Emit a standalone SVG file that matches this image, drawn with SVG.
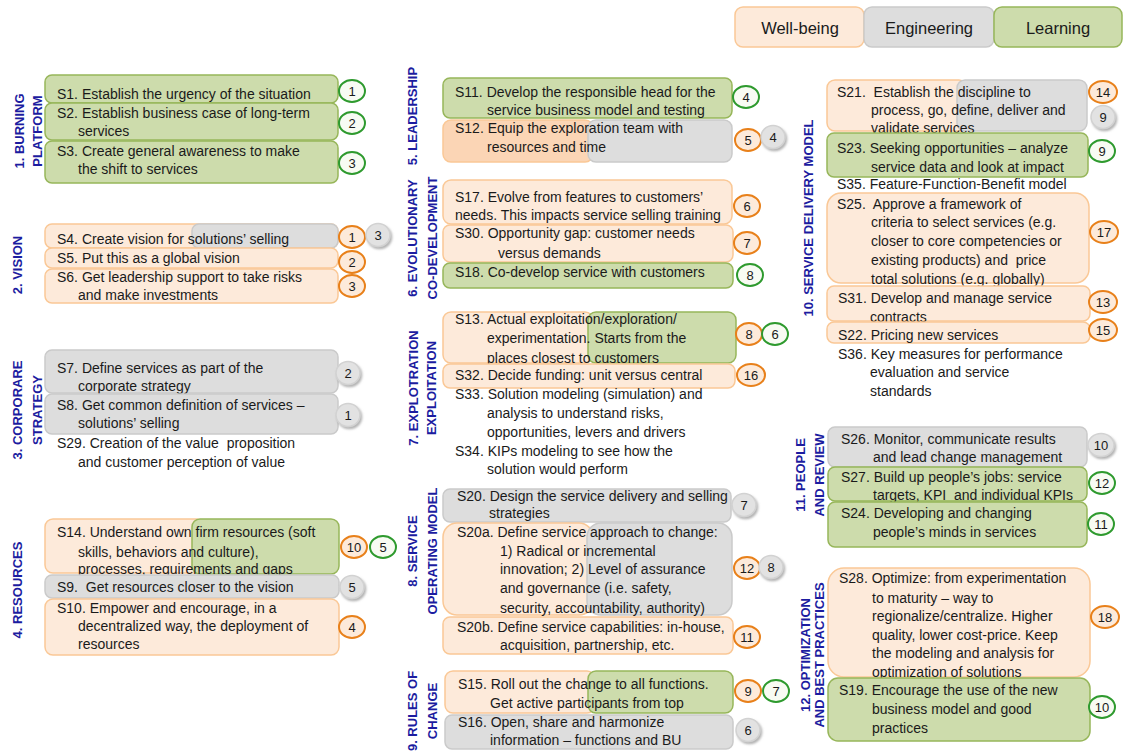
<svg xmlns="http://www.w3.org/2000/svg" width="1123" height="751" viewBox="0 0 1123 751">
<defs>
<filter id="sh" x="-50%" y="-50%" width="200%" height="200%"><feDropShadow dx="1.5" dy="2" stdDeviation="1" flood-color="#808080" flood-opacity="0.6"/></filter>
<style>
.w{fill:#FDEADA;stroke:#FAC896;stroke-width:1.5}
.w2{fill:#FBD5B5;stroke:#FAC896;stroke-width:1.5}
.e{fill:#DDDDDD;stroke:#CACACA;stroke-width:1.5}
.l{fill:#CDDCAC;stroke:#97B65A;stroke-width:1.5}
.t{font-family:"Liberation Sans",Arial,sans-serif;font-size:14px;fill:#1a1a1a}
.lg{font-family:"Liberation Sans",Arial,sans-serif;font-size:16.5px;fill:#1a1a1a;text-anchor:middle}
.h{font-family:"Liberation Sans",Arial,sans-serif;font-size:13px;font-weight:bold;fill:#1C1CA0;text-anchor:middle}
.bw{fill:#FDEADA;stroke:#E8801A;stroke-width:2}
.bl{fill:#F8FBF3;stroke:#2E9A2E;stroke-width:2}
.be{fill:#E2E2E2;stroke:#D2D2D2;stroke-width:1.5;filter:url(#sh)}
.bt{font-family:"Liberation Sans",Arial,sans-serif;font-size:13px;fill:#1a1a1a;text-anchor:middle}
</style>
</defs>
<rect width="1123" height="751" fill="#FFFFFF"/>

<g id="legend">
<rect class="w" x="735" y="7" width="129" height="40" rx="8"/>
<rect class="e" x="864" y="7" width="130" height="40" rx="8"/>
<rect class="l" x="994" y="7" width="128" height="40" rx="8"/>
<text class="lg" x="800" y="34">Well-being</text>
<text class="lg" x="929" y="34">Engineering</text>
<text class="lg" x="1058" y="34">Learning</text>
</g>

<g id="labels">
<text class="h" transform="translate(24,131) rotate(-90)">1. BURNING</text>
<text class="h" transform="translate(42,131) rotate(-90)">PLATFORM</text>
<text class="h" transform="translate(22,265) rotate(-90)">2. VISION</text>
<text class="h" transform="translate(22,410) rotate(-90)">3. CORPORARE</text>
<text class="h" transform="translate(42,410) rotate(-90)">STRATEGY</text>
<text class="h" transform="translate(22,590) rotate(-90)">4. RESOURCES</text>
<text class="h" transform="translate(417,116) rotate(-90)">5. LEADERSHIP</text>
<text class="h" transform="translate(417,238) rotate(-90)">6. EVOLUTIONARY</text>
<text class="h" transform="translate(437,238) rotate(-90)">CO-DEVELOPMENT</text>
<text class="h" transform="translate(418,388) rotate(-90)">7. EXPLOTRATION</text>
<text class="h" transform="translate(436,388) rotate(-90)">EXPLOITATION</text>
<text class="h" transform="translate(417,551) rotate(-90)">8. SERVICE</text>
<text class="h" transform="translate(437,551) rotate(-90)">OPERATING MODEL</text>
<text class="h" transform="translate(417,711) rotate(-90)">9. RULES OF</text>
<text class="h" transform="translate(437,711) rotate(-90)">CHANGE</text>
<text class="h" transform="translate(813,218) rotate(-90)">10. SERVICE DELIVERY MODEL</text>
<text class="h" transform="translate(805,475) rotate(-90)">11. PEOPLE</text>
<text class="h" transform="translate(824,475) rotate(-90)">AND REVIEW</text>
<text class="h" transform="translate(810,655) rotate(-90)">12. OPTIMIZATION</text>
<text class="h" transform="translate(824,655) rotate(-90)">AND BEST PRACTICES</text>
</g>

<g id="connectors"/>

<!-- Column 1 -->
<g id="S1">
<rect class="l" x="45" y="75" width="293" height="28" rx="7"/>
<text class="t" x="57" y="99">S1. Establish the urgency of the situation</text>
<ellipse class="bl" cx="352" cy="91" rx="13" ry="11"/><text class="bt" x="352" y="96">1</text>
</g>
<g id="S2">
<rect class="l" x="45" y="103" width="293" height="37" rx="7"/>
<text class="t" x="57" y="118">S2. Establish business case of long-term</text>
<text class="t" x="78" y="136">services</text>
<ellipse class="bl" cx="352" cy="123" rx="13" ry="11"/><text class="bt" x="352" y="128">2</text>
</g>
<g id="S3">
<rect class="l" x="45" y="141" width="293" height="42" rx="7"/>
<text class="t" x="57" y="156">S3. Create general awareness to make</text>
<text class="t" x="78" y="174">the shift to services</text>
<ellipse class="bl" cx="352" cy="163" rx="13" ry="11"/><text class="bt" x="352" y="168">3</text>
</g>

<g id="S4">
<rect class="w" x="45" y="224" width="293" height="24" rx="7"/>
<rect class="e" x="192" y="224" width="146" height="24" rx="7"/>
<text class="t" x="57" y="244">S4. Create vision for solutions’ selling</text>
<ellipse class="bw" cx="352" cy="237" rx="13" ry="11"/><text class="bt" x="352" y="242">1</text>
<ellipse class="be" cx="378" cy="235" rx="12" ry="11.5"/><text class="bt" x="378" y="240">3</text>
</g>
<g id="S5">
<rect class="w" x="45" y="248" width="293" height="20" rx="7"/>
<text class="t" x="57" y="263">S5. Put this as a global vision</text>
<ellipse class="bw" cx="352" cy="262" rx="13" ry="11"/><text class="bt" x="352" y="267">2</text>
</g>
<g id="S6">
<rect class="w" x="45" y="269" width="293" height="34" rx="7"/>
<text class="t" x="57" y="282">S6. Get leadership support to take risks</text>
<text class="t" x="78" y="300">and make investments</text>
<ellipse class="bw" cx="352" cy="286" rx="13" ry="11"/><text class="bt" x="352" y="291">3</text>
</g>

<g id="S7">
<rect class="e" x="45" y="350" width="293" height="43" rx="7"/>
<text class="t" x="57" y="373">S7. Define services as part of the</text>
<text class="t" x="78" y="391">corporate strategy</text>
<ellipse class="be" cx="348" cy="373" rx="12" ry="11.5"/><text class="bt" x="348" y="378">2</text>
</g>
<g id="S8">
<rect class="e" x="45" y="394" width="293" height="40" rx="7"/>
<text class="t" x="57" y="410">S8. Get common definition of services –</text>
<text class="t" x="78" y="428">solutions’ selling</text>
<ellipse class="be" cx="348" cy="415" rx="12" ry="11.5"/><text class="bt" x="348" y="420">1</text>
</g>
<g id="S29">
<text class="t" x="57" y="448">S29. Creation of the value&#160; proposition</text>
<text class="t" x="78" y="467">and customer perception of value</text>
</g>

<g id="S14">
<rect class="w" x="45" y="519" width="160" height="54" rx="8"/>
<rect class="l" x="192" y="519" width="147" height="55" rx="8"/>
<text class="t" x="57" y="537">S14. Understand own firm resources (soft</text>
<text class="t" x="78" y="557">skills, behaviors and culture),</text>
<text class="t" x="78" y="574">processes, requirements and gaps</text>
<ellipse class="bw" cx="354" cy="547" rx="13" ry="11"/><text class="bt" x="354" y="552">10</text>
<ellipse class="bl" cx="383" cy="547" rx="13" ry="11"/><text class="bt" x="383" y="552">5</text>
</g>
<g id="S9">
<rect class="e" x="45" y="575" width="294" height="23" rx="7"/>
<text class="t" x="57" y="592">S9.&#160; Get resources closer to the vision</text>
<ellipse class="be" cx="352" cy="587" rx="12" ry="11.5"/><text class="bt" x="352" y="592">5</text>
</g>
<g id="S10">
<rect class="w" x="45" y="599" width="294" height="56" rx="8"/>
<text class="t" x="57" y="613">S10. Empower and encourage, in a</text>
<text class="t" x="78" y="631">decentralized way, the deployment of</text>
<text class="t" x="78" y="649">resources</text>
<ellipse class="bw" cx="352" cy="627" rx="13" ry="11"/><text class="bt" x="352" y="632">4</text>
</g>

<!-- Column 2 -->
<g id="S11">
<rect class="l" x="443" y="78" width="289" height="40" rx="7"/>
<text class="t" x="455" y="97">S11. Develop the responsible head for the</text>
<text class="t" x="487" y="115">service business model and testing</text>
<ellipse class="bl" cx="746" cy="97" rx="13" ry="11"/><text class="bt" x="746" y="102">4</text>
</g>
<g id="S12">
<rect class="w2" x="443" y="120" width="150" height="42" rx="8"/>
<rect class="e" x="588" y="120" width="144" height="42" rx="8"/>
<text class="t" x="455" y="133">S12. Equip the exploration team with</text>
<text class="t" x="487" y="152">resources and time</text>
<ellipse class="bw" cx="748" cy="140" rx="13" ry="11"/><text class="bt" x="748" y="145">5</text>
<ellipse class="be" cx="773" cy="137" rx="12" ry="11.5"/><text class="bt" x="773" y="142">4</text>
</g>

<g id="S17">
<rect class="w" x="443" y="180" width="289" height="44" rx="8"/>
<text class="t" x="455" y="202">S17. Evolve from features to customers’</text>
<text class="t" x="455" y="220">needs. This impacts service selling training</text>
<ellipse class="bw" cx="747" cy="206" rx="13" ry="11"/><text class="bt" x="747" y="211">6</text>
</g>
<g id="S30">
<rect class="w" x="443" y="225" width="290" height="37" rx="7"/>
<text class="t" x="455" y="238">S30. Opportunity gap: customer needs</text>
<text class="t" x="498" y="258">versus demands</text>
<ellipse class="bw" cx="747" cy="243" rx="13" ry="11"/><text class="bt" x="747" y="248">7</text>
</g>
<g id="S18">
<rect class="l" x="443" y="263" width="290" height="25" rx="7"/>
<text class="t" x="455" y="277">S18. Co-develop service with customers</text>
<ellipse class="bl" cx="750" cy="275" rx="13" ry="11"/><text class="bt" x="750" y="280">8</text>
</g>

<g id="S13">
<rect class="w" x="443" y="312" width="150" height="51" rx="8"/>
<rect class="l" x="588" y="312" width="148" height="51" rx="8"/>
<text class="t" x="455" y="324">S13. Actual exploitation/exploration/</text>
<text class="t" x="487" y="343">experimentation. Starts from the</text>
<text class="t" x="487" y="363">places closest to customers</text>
<ellipse class="bw" cx="749" cy="334" rx="13" ry="11"/><text class="bt" x="749" y="339">8</text>
<ellipse class="bl" cx="775" cy="334" rx="13" ry="11"/><text class="bt" x="775" y="339">6</text>
</g>
<g id="S32">
<rect class="w" x="443" y="364" width="292" height="24" rx="7"/>
<text class="t" x="455" y="380">S32. Decide funding: unit versus central</text>
<ellipse class="bw" cx="751" cy="375" rx="14" ry="11"/><text class="bt" x="751" y="380">16</text>
</g>
<g id="S33">
<text class="t" x="455" y="399">S33. Solution modeling (simulation) and</text>
<text class="t" x="487" y="418">analysis to understand risks,</text>
<text class="t" x="487" y="437">opportunities, levers and drivers</text>
</g>
<g id="S34">
<text class="t" x="455" y="456">S34. KIPs modeling to see how the</text>
<text class="t" x="487" y="474">solution would perform</text>
</g>

<g id="S20">
<rect class="e" x="443" y="489" width="288" height="33" rx="7"/>
<text class="t" x="457" y="501">S20. Design the service delivery and selling</text>
<text class="t" x="489" y="518">strategies</text>
<ellipse class="be" cx="744" cy="505" rx="12" ry="11.5"/><text class="bt" x="744" y="510">7</text>
</g>
<g id="S20a">
<rect class="w" x="443" y="523" width="150" height="92" rx="14"/>
<rect class="e" x="587" y="523" width="145" height="92" rx="14"/>
<text class="t" x="457" y="537">S20a. Define service approach to change:</text>
<text class="t" x="500" y="556">1) Radical or incremental</text>
<text class="t" x="500" y="574">innovation; 2) Level of assurance</text>
<text class="t" x="500" y="593">and governance (i.e. safety,</text>
<text class="t" x="500" y="613">security, accountability, authority)</text>
<ellipse class="bw" cx="747" cy="568" rx="13" ry="11"/><text class="bt" x="747" y="573">12</text>
<ellipse class="be" cx="771" cy="567" rx="12" ry="11.5"/><text class="bt" x="771" y="572">8</text>
</g>
<g id="S20b">
<rect class="w" x="443" y="617" width="290" height="37" rx="7"/>
<text class="t" x="457" y="632">S20b. Define service capabilities: in-house,</text>
<text class="t" x="500" y="650">acquisition, partnership, etc.</text>
<ellipse class="bw" cx="747" cy="637" rx="13" ry="11"/><text class="bt" x="747" y="642">11</text>
</g>

<g id="S15">
<rect class="w" x="445" y="671" width="150" height="42" rx="8"/>
<rect class="l" x="588" y="671" width="145" height="42" rx="8"/>
<text class="t" x="458" y="689">S15. Roll out the change to all functions.</text>
<text class="t" x="490" y="708">Get active participants from top</text>
<ellipse class="bw" cx="748" cy="691" rx="13" ry="11"/><text class="bt" x="748" y="696">9</text>
<ellipse class="bl" cx="776" cy="691" rx="13" ry="11"/><text class="bt" x="776" y="696">7</text>
</g>
<g id="S16">
<rect class="e" x="445" y="715" width="288" height="34" rx="7"/>
<text class="t" x="458" y="727">S16. Open, share and harmonize</text>
<text class="t" x="490" y="745">information – functions and BU</text>
<ellipse class="be" cx="748" cy="730" rx="12" ry="11.5"/><text class="bt" x="748" y="735">6</text>
</g>

<!-- Column 3 -->
<g id="S21">
<rect class="w" x="827" y="80" width="140" height="51" rx="8"/>
<rect class="e" x="957" y="80" width="130" height="51" rx="8"/>
<text class="t" x="837" y="97">S21.&#160; Establish the discipline to</text>
<text class="t" x="871" y="115">process, go, define, deliver and</text>
<text class="t" x="871" y="133">validate services</text>
<ellipse class="bw" cx="1103" cy="92" rx="14" ry="11"/><text class="bt" x="1103" y="97">14</text>
<ellipse class="be" cx="1103" cy="117" rx="12" ry="11.5"/><text class="bt" x="1103" y="122">9</text>
</g>
<g id="S23">
<rect class="l" x="827" y="133" width="261" height="44" rx="7"/>
<text class="t" x="837" y="153">S23. Seeking opportunities – analyze</text>
<text class="t" x="871" y="172">service data and look at impact</text>
<ellipse class="bl" cx="1102" cy="151" rx="13" ry="11"/><text class="bt" x="1102" y="156">9</text>
</g>
<g id="S35">
<text class="t" x="837" y="189">S35. Feature-Function-Benefit model</text>
</g>
<g id="S25">
<rect class="w" x="827" y="193" width="262" height="90" rx="14"/>
<text class="t" x="837" y="209">S25.&#160; Approve a framework of</text>
<text class="t" x="871" y="227">criteria to select services (e.g.</text>
<text class="t" x="871" y="246">closer to core competencies or</text>
<text class="t" x="871" y="265">existing products) and&#160; price</text>
<text class="t" x="871" y="284">total solutions (e.g. globally)</text>
<ellipse class="bw" cx="1104" cy="232" rx="14" ry="11"/><text class="bt" x="1104" y="237">17</text>
</g>
<g id="S31">
<rect class="w" x="827" y="286" width="263" height="35" rx="7"/>
<text class="t" x="838" y="303">S31. Develop and manage service</text>
<text class="t" x="870" y="322">contracts</text>
<ellipse class="bw" cx="1103" cy="302" rx="14" ry="11"/><text class="bt" x="1103" y="307">13</text>
</g>
<g id="S22">
<rect class="w" x="827" y="322" width="263" height="21" rx="7"/>
<text class="t" x="838" y="340">S22. Pricing new services</text>
<ellipse class="bw" cx="1103" cy="330" rx="14" ry="11"/><text class="bt" x="1103" y="335">15</text>
</g>
<g id="S36">
<text class="t" x="838" y="359">S36. Key measures for performance</text>
<text class="t" x="870" y="377">evaluation and service</text>
<text class="t" x="870" y="396">standards</text>
</g>

<g id="S26">
<rect class="e" x="828" y="427" width="259" height="40" rx="7"/>
<text class="t" x="841" y="444">S26. Monitor, communicate results</text>
<text class="t" x="873" y="462">and lead change management</text>
<ellipse class="be" cx="1101" cy="445" rx="13" ry="11.5"/><text class="bt" x="1101" y="450">10</text>
</g>
<g id="S27">
<rect class="l" x="828" y="467" width="259" height="34" rx="7"/>
<text class="t" x="841" y="482">S27. Build up people’s jobs: service</text>
<text class="t" x="873" y="500">targets, KPI&#160; and individual KPIs</text>
<ellipse class="bl" cx="1102" cy="483" rx="13" ry="11"/><text class="bt" x="1102" y="488">12</text>
</g>
<g id="S24">
<rect class="l" x="828" y="502" width="259" height="45" rx="7"/>
<text class="t" x="841" y="518">S24. Developing and changing</text>
<text class="t" x="873" y="537">people’s minds in services</text>
<ellipse class="bl" cx="1101" cy="524" rx="13" ry="11"/><text class="bt" x="1101" y="529">11</text>
</g>

<g id="S28">
<rect class="w" x="828" y="568" width="262" height="109" rx="16"/>
<text class="t" x="839" y="583">S28. Optimize: from experimentation</text>
<text class="t" x="872" y="603">to maturity – way to</text>
<text class="t" x="872" y="621">regionalize/centralize. Higher</text>
<text class="t" x="872" y="640">quality, lower cost-price. Keep</text>
<text class="t" x="872" y="658">the modeling and analysis for</text>
<text class="t" x="872" y="677">optimization of solutions</text>
<ellipse class="bw" cx="1105" cy="617" rx="14" ry="11"/><text class="bt" x="1105" y="622">18</text>
</g>
<g id="S19">
<rect class="l" x="828" y="678" width="262" height="63" rx="10"/>
<text class="t" x="839" y="695">S19. Encourage the use of the new</text>
<text class="t" x="872" y="714">business model and good</text>
<text class="t" x="872" y="733">practices</text>
<ellipse class="bl" cx="1102" cy="707" rx="13" ry="11"/><text class="bt" x="1102" y="712">10</text>
</g>
</svg>
